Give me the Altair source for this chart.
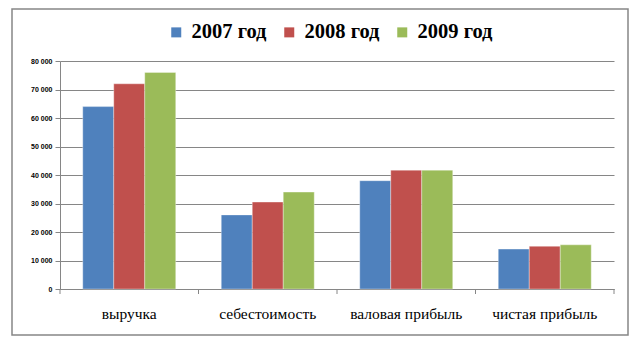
import altair as alt
import pandas as pd

categories = ["выручка", "себестоимость", "валовая прибыль", "чистая прибыль"]
years = ["2007 год", "2008 год", "2009 год"]
v2007 = [64000, 26000, 38000, 14000]
v2008 = [72000, 30500, 41700, 15000]
v2009 = [76000, 34000, 41700, 15500]
colors = ["#4F81BD", "#C0504D", "#9BBB59"]

rows = []
for yr, vals in zip(years, [v2007, v2008, v2009]):
    for c, v in zip(categories, vals):
        rows.append({"cat": c, "year": yr, "value": v})
df = pd.DataFrame(rows)

W, H = 554, 228
GRAY = "#868686"

xscale = alt.Scale(domain=categories, paddingInner=0, paddingOuter=0)

bars = alt.Chart(df).mark_bar(stroke="white", strokeOpacity=0.35, strokeWidth=1).encode(
    x=alt.X("cat:N", sort=categories, scale=xscale,
            axis=alt.Axis(title=None, labelAngle=0, ticks=False, labelFont="Liberation Serif",
                          labelFontSize=15.5, labelColor="black", labelPadding=17,
                          domainColor=GRAY, domainWidth=1)),
    xOffset=alt.XOffset("year:N", sort=years, scale=alt.Scale(paddingOuter=0.734, paddingInner=0)),
    y=alt.Y("value:Q", scale=alt.Scale(domain=[0, 80000]),
            axis=alt.Axis(title=None, values=list(range(0, 80001, 10000)),
                          labelExpr="replace(format(datum.value, ',d'), ',', ' ')",
                          labelFont="Liberation Sans", labelFontSize=7, labelFontWeight="bold",
                          labelColor="black", labelPadding=3, tickSize=5, tickColor=GRAY,
                          domainColor=GRAY, gridColor=GRAY, gridWidth=1)),
    color=alt.Color("year:N", sort=years, scale=alt.Scale(domain=years, range=colors),
                    legend=alt.Legend(title=None, orient="none", legendX=106, legendY=-39,
                                      direction="horizontal", labelFont="Liberation Serif",
                                      labelFontSize=20.5, labelFontWeight="bold", labelColor="black",
                                      symbolType="square", symbolSize=100, symbolStrokeWidth=0,
                                      labelOffset=5, columnPadding=12)),
)

tick_df = pd.DataFrame({"cat": categories})
ticks = alt.Chart(tick_df).mark_rule(color=GRAY, strokeWidth=1).encode(
    x=alt.X("cat:N", sort=categories, scale=xscale, bandPosition=0),
    y=alt.value(H),
    y2=alt.value(H + 5),
)
end_tick = alt.Chart(alt.Data(values=[{}])).mark_rule(color=GRAY, strokeWidth=1).encode(
    x=alt.value(W), y=alt.value(H), y2=alt.value(H + 5)
)
border = alt.Chart(alt.Data(values=[{}])).mark_rect(fill=None, fillOpacity=0, stroke=GRAY, strokeWidth=1.5).encode(
    x=alt.value(-48), x2=alt.value(568), y=alt.value(-52), y2=alt.value(274)
)

chart = alt.layer(bars, ticks, end_tick, border).properties(
    width=W, height=H,
    autosize=alt.AutoSizeParams(type="none"),
    padding={"left": 60, "top": 61, "right": 21, "bottom": 62},
    background="white",
).configure_view(stroke=None)

chart.save("out.html", embed_options={"renderer": "svg", "actions": False})
